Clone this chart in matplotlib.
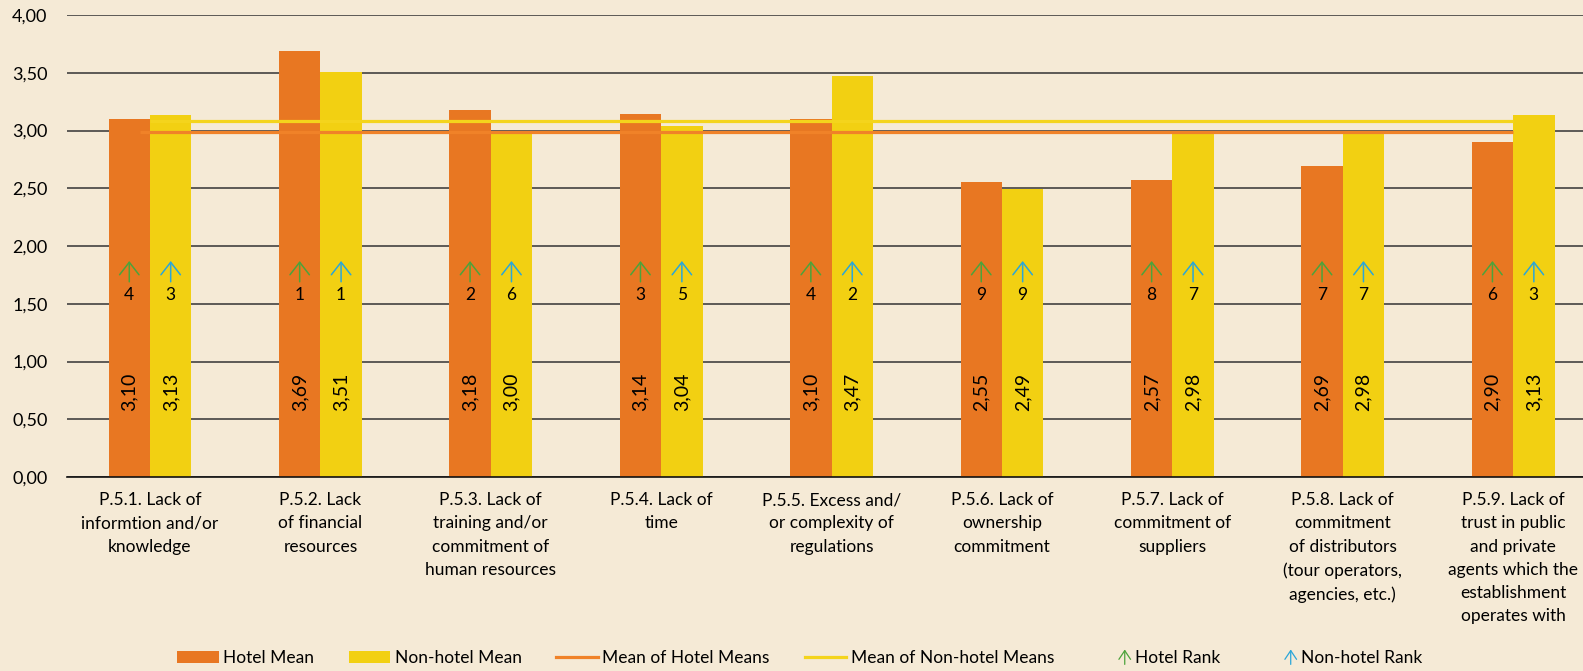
import numpy as np
import matplotlib
matplotlib.use('Agg')
import matplotlib.pyplot as plt
from matplotlib.patches import Patch, FancyArrowPatch
from matplotlib.lines import Line2D
from matplotlib.legend_handler import HandlerBase

plt.rcParams['font.family'] = ['Lato', 'DejaVu Sans']

# Data
categories = [
    "P.5.1. Lack of\ninformtion and/or\nknowledge",
    "P.5.2. Lack\nof financial\nresources",
    "P.5.3. Lack of\ntraining and/or\ncommitment of\nhuman resources",
    "P.5.4. Lack of\ntime",
    "P.5.5. Excess and/\nor complexity of\nregulations",
    "P.5.6. Lack of\nownership\ncommitment",
    "P.5.7. Lack of\ncommitment of\nsuppliers",
    "P.5.8. Lack of\ncommitment\nof distributors\n(tour operators,\nagencies, etc.)",
    "P.5.9. Lack of\ntrust in public\nand private\nagents which the\nestablishment\noperates with",
]
hotel_mean = [3.10, 3.69, 3.18, 3.14, 3.10, 2.55, 2.57, 2.69, 2.90]
nonhotel_mean = [3.13, 3.51, 3.00, 3.04, 3.47, 2.49, 2.98, 2.98, 3.13]
hotel_rank = [4, 1, 2, 3, 4, 9, 8, 7, 6]
nonhotel_rank = [3, 1, 6, 5, 2, 9, 7, 7, 3]
yticks = [0, 0.5, 1, 1.5, 2, 2.5, 3, 3.5, 4]

BG = '#F5EAD6'
ORANGE = '#E87722'
YELLOW = '#F2D012'
ORANGE_LINE = '#F08228'
YELLOW_LINE = '#F4D41C'
GREEN = '#4CA33B'
BLUE = '#2AA6D9'
FS = 12.5
ARROW = 'Fancy'


class ArrowHandler(HandlerBase):
    # thin up-arrow for the rank entries in the legend
    def create_artists(self, legend, orig_handle, xdescent, ydescent,
                       width, height, fontsize, trans):
        cx = width - 4
        a = FancyArrowPatch((cx, -ydescent - 3), (cx, height + 3),
                            arrowstyle='->,head_length=0.45,head_width=0.3',
                            mutation_scale=14, color=orig_handle.get_color(),
                            lw=0.9, transform=trans)
        return [a]


fig = plt.figure(figsize=(15.83, 6.71), dpi=100, facecolor=BG)
ax = fig.add_axes([67 / 1583, 1 - 477 / 671, 1 - 67 / 1583, (477 - 15) / 671])
ax.set_facecolor(BG)

x = np.arange(len(categories))
w = 0.243
ax.bar(x - w / 2, hotel_mean, w, color=ORANGE, zorder=2)
ax.bar(x + w / 2, nonhotel_mean, w, color=YELLOW, zorder=2)

# mean of means lines (drawn over bars)
hm = np.mean(hotel_mean)
nm = np.mean(nonhotel_mean)
ax.plot([-0.06, 8.0], [hm, hm], color=ORANGE_LINE, lw=2.3, zorder=4, solid_capstyle='butt')
ax.plot([0.0, 8.0], [nm, nm], color=YELLOW_LINE, lw=2.3, zorder=4, solid_capstyle='butt')

# labels inside bars
for i in range(len(categories)):
    for dx, val, rk, col in [(-w / 2, hotel_mean[i], hotel_rank[i], GREEN),
                             (w / 2, nonhotel_mean[i], nonhotel_rank[i], BLUE)]:
        ax.annotate('', xy=(x[i] + dx, 1.87), xytext=(x[i] + dx, 1.69),
                    arrowprops=dict(arrowstyle='->,head_length=0.45,head_width=0.35',
                                    mutation_scale=20, color=col, lw=1.1,
                                    shrinkA=0, shrinkB=0), zorder=5)
        ax.text(x[i] + dx, 1.58, str(rk), ha='center', va='center', fontsize=FS, zorder=5)
        ax.text(x[i] + dx, 0.74, f"{val:.2f}".replace('.', ','), ha='center', va='center',
                rotation=90, fontsize=FS + 1.5, zorder=5)

ax.set_xlim(-0.487, 8.41)
ax.set_ylim(0, 4)
ax.set_yticks(yticks)
ax.set_yticklabels([f"{t:.2f}".replace('.', ',') for t in yticks], fontsize=FS + 0.5)
ax.yaxis.grid(True, color='#333333', lw=1.1, zorder=1)
ax.set_axisbelow(True)
ax.tick_params(axis='y', length=0, pad=14)
ax.tick_params(axis='x', length=0, pad=11)
ax.set_xticks(x)
ax.set_xticklabels(categories, fontsize=FS, linespacing=1.55, va='top')
for s in ['top', 'right', 'left']:
    ax.spines[s].set_visible(False)
ax.spines['bottom'].set_color('#111111')
ax.spines['bottom'].set_linewidth(1.2)

handles = [
    Patch(facecolor=ORANGE, label='Hotel Mean'),
    Patch(facecolor=YELLOW, label='Non-hotel Mean'),
    Line2D([], [], color=ORANGE_LINE, lw=2.3, label='Mean of Hotel Means'),
    Line2D([], [], color=YELLOW_LINE, lw=2.3, label='Mean of Non-hotel Means'),
    Line2D([], [], color=GREEN, label='Hotel Rank'),
    Line2D([], [], color=BLUE, label='Non-hotel Rank'),
]
fig.legend(handles=handles, loc='center', bbox_to_anchor=(0.505, 13 / 671),
           ncol=6, frameon=False, fontsize=FS, handlelength=2.4, handletextpad=0.25,
           columnspacing=2.0,
           handler_map={handles[4]: ArrowHandler(), handles[5]: ArrowHandler()})

fig.savefig('out.png', dpi=100, facecolor=BG)
